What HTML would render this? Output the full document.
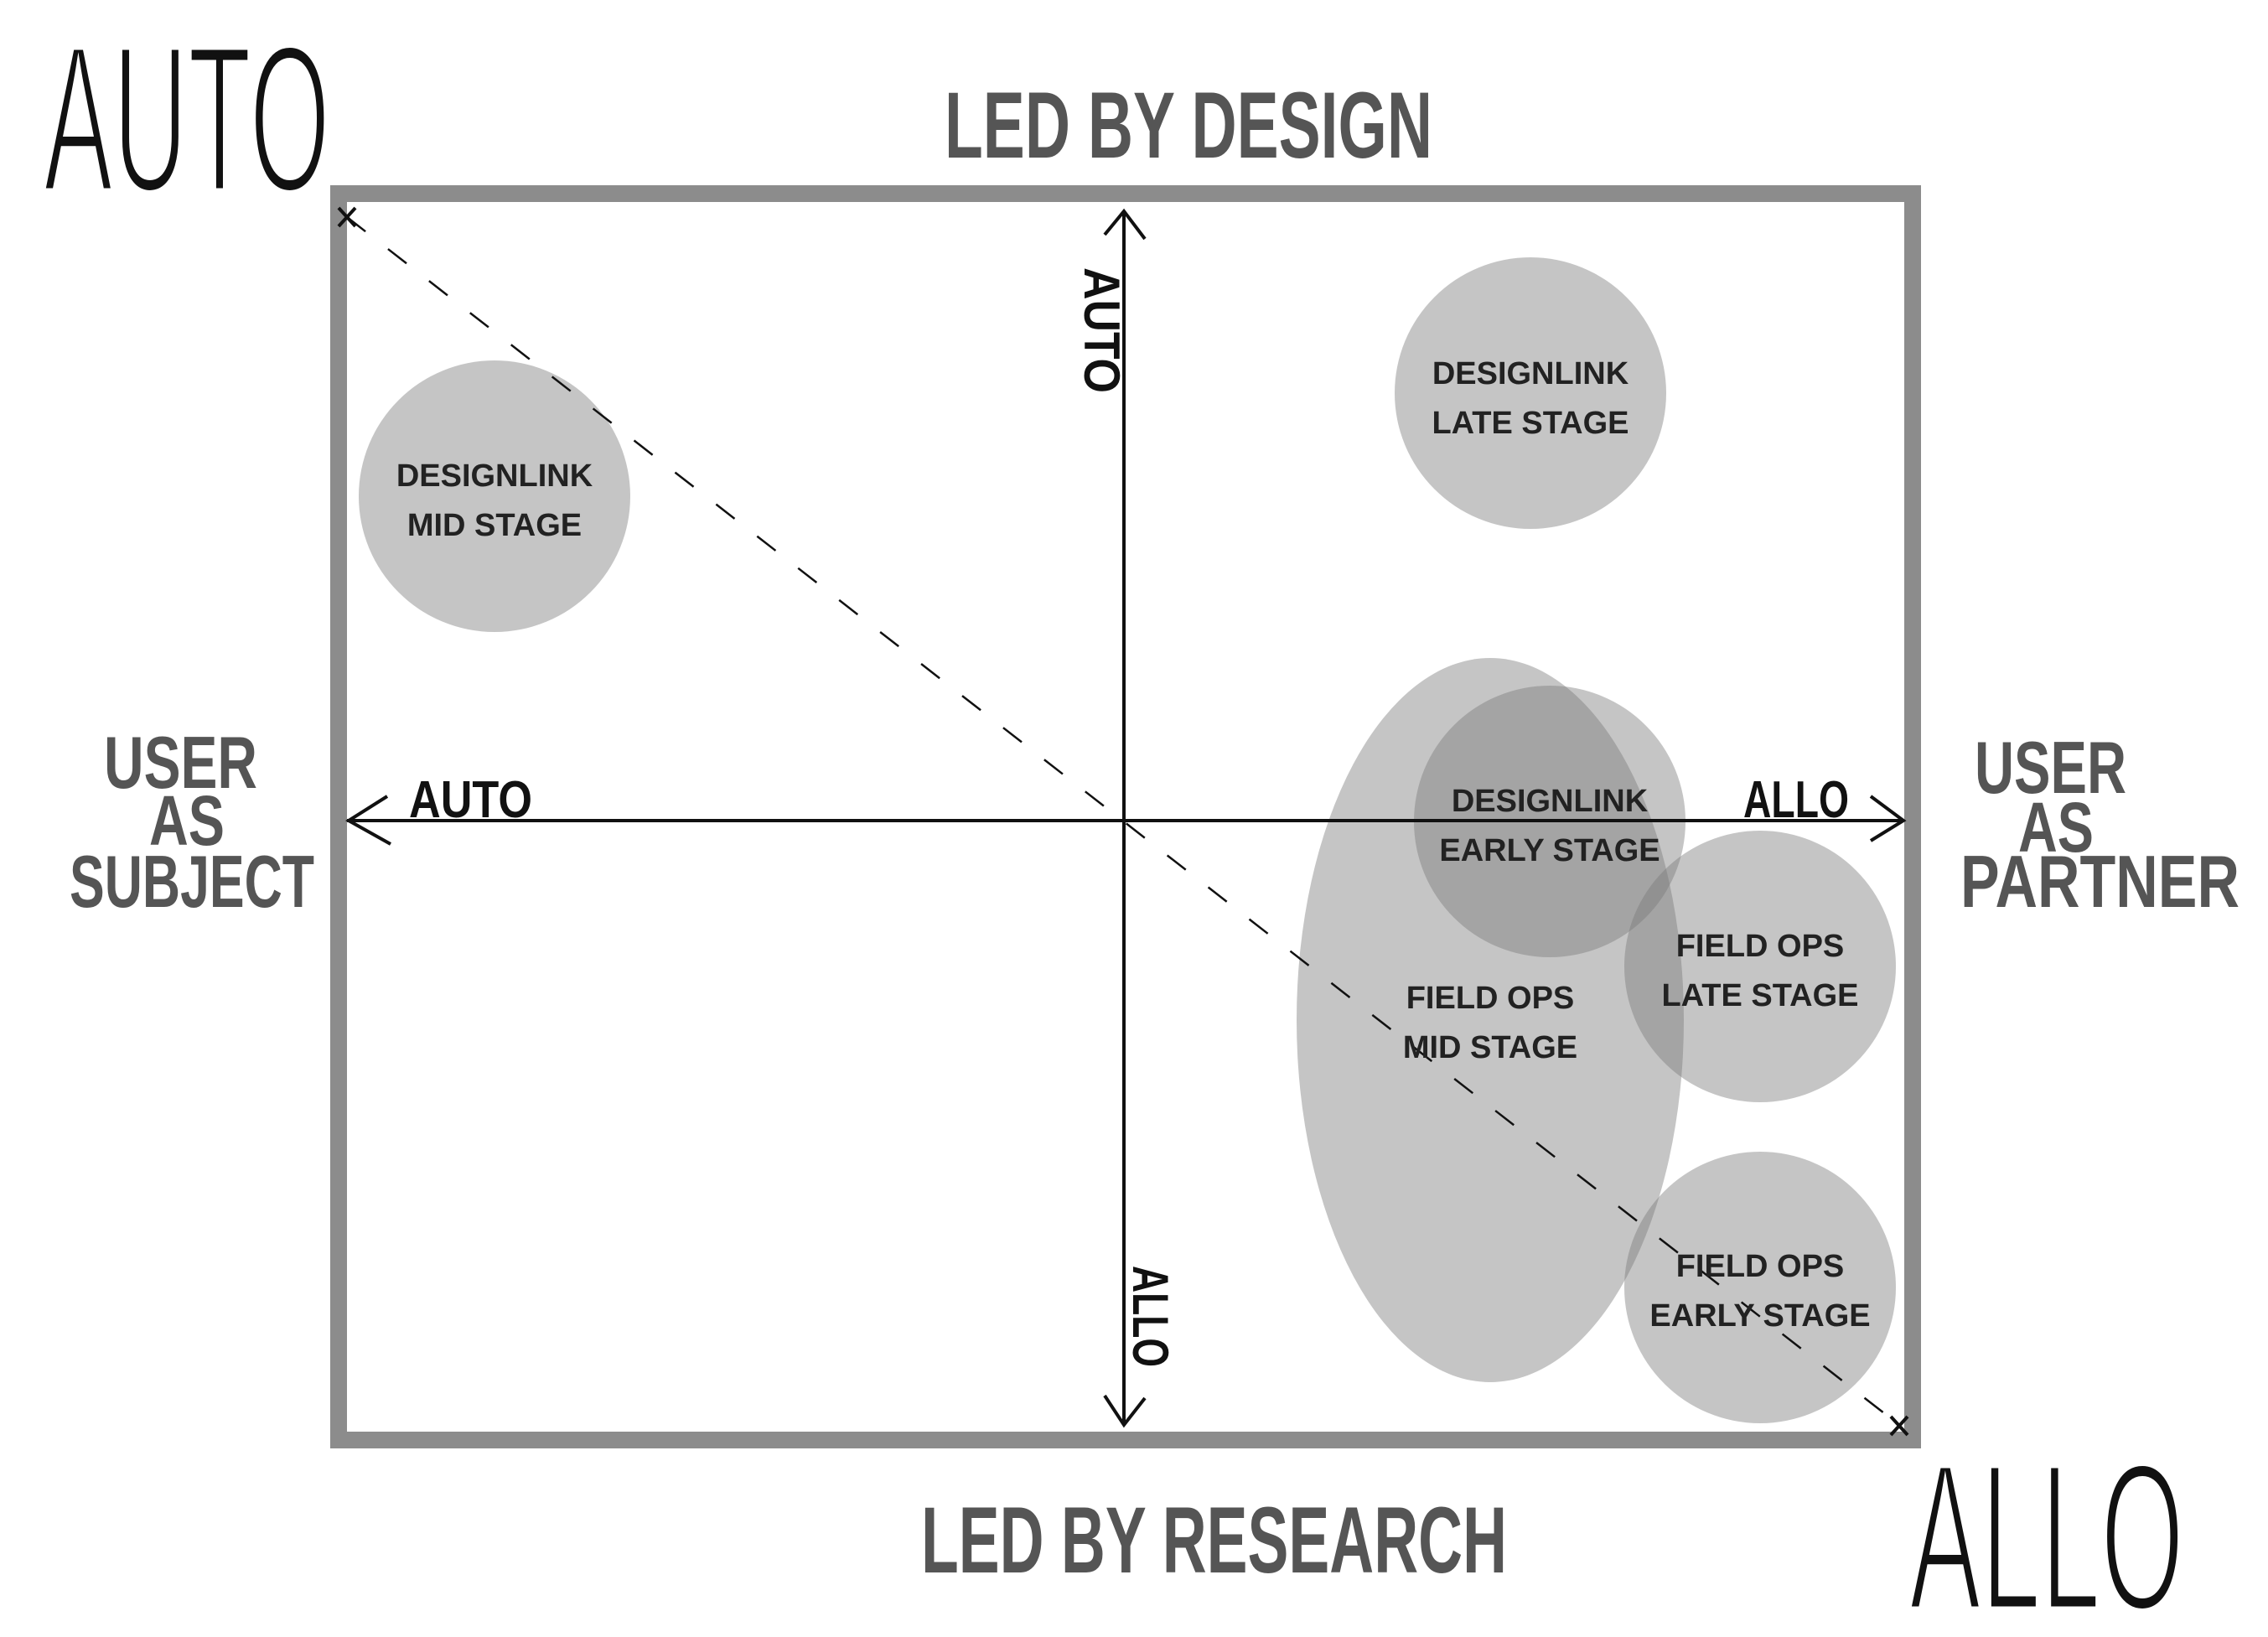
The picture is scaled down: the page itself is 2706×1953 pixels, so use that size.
<!DOCTYPE html>
<html><head><meta charset="utf-8"><style>
html,body{margin:0;padding:0;background:#fff;}
svg{display:block;}
.hand{font-family:"Liberation Sans",sans-serif;}
.lbl{font-family:"Liberation Sans",sans-serif;font-weight:bold;font-size:38px;fill:#222;text-anchor:middle;}
</style></head><body>
<svg width="2706" height="1953" viewBox="0 0 2706 1953" xmlns="http://www.w3.org/2000/svg">
<rect x="404" y="231" width="1878" height="1487" fill="none" stroke="#8c8c8c" stroke-width="20"/>
<g fill="rgba(120,120,120,0.43)">
<circle cx="590" cy="592" r="162"/>
<circle cx="1826" cy="469" r="162"/>
<ellipse cx="1778" cy="1217" rx="231" ry="432"/>
<circle cx="1849" cy="980" r="162"/>
<circle cx="2100" cy="1153" r="162"/>
<circle cx="2100" cy="1536" r="162"/>
</g>
<line x1="414" y1="259" x2="2266" y2="1700" stroke="#111" stroke-width="2.5" stroke-dasharray="28,34"/>
<path d="M404 248 L424 270 M424 248 L404 270" stroke="#111" stroke-width="4"/>
<path d="M2256 1690 L2276 1712 M2276 1690 L2256 1712" stroke="#111" stroke-width="4"/>
<g stroke="#111" stroke-width="4" fill="none">
<line x1="1341" y1="252" x2="1341" y2="1700"/>
<line x1="414" y1="979" x2="2271" y2="979"/>
<path d="M1318 280 L1341 252 L1366 285"/>
<path d="M1318 1665 L1341 1700 L1366 1668"/>
<path d="M462 950 L416 979 L466 1007"/>
<path d="M2232 950 L2271 979 L2232 1003"/>
</g>
<g class="lbl">
<text x="590" y="580">DESIGNLINK</text><text x="590" y="639">MID STAGE</text>
<text x="1826" y="458">DESIGNLINK</text><text x="1826" y="517">LATE STAGE</text>
<text x="1849" y="968">DESIGNLINK</text><text x="1849" y="1027">EARLY STAGE</text>
<text x="1778" y="1203">FIELD OPS</text><text x="1778" y="1262">MID STAGE</text>
<text x="2100" y="1141">FIELD OPS</text><text x="2100" y="1200">LATE STAGE</text>
<text x="2100" y="1523">FIELD OPS</text><text x="2100" y="1582">EARLY STAGE</text>
</g>
<g class="hand" fill="#111">
<text x="52" y="228" font-size="250" textLength="342" lengthAdjust="spacingAndGlyphs" stroke="#fff" stroke-width="7">AUTO</text>
<text x="2278" y="1920" font-size="250" textLength="328" lengthAdjust="spacingAndGlyphs" stroke="#fff" stroke-width="7">ALLO</text>
<text x="488" y="975" font-size="62" font-weight="bold" textLength="147" lengthAdjust="spacingAndGlyphs">AUTO</text>
<text x="2080" y="975" font-size="62" font-weight="bold" textLength="126" lengthAdjust="spacingAndGlyphs">ALLO</text>
<text transform="translate(1294,319) rotate(90)" font-size="60" font-weight="bold" textLength="150" lengthAdjust="spacingAndGlyphs">AUTO</text>
<text transform="translate(1352,1510) rotate(90)" font-size="60" font-weight="bold" textLength="121" lengthAdjust="spacingAndGlyphs">ALLO</text>
</g>
<g class="hand" fill="#555" font-weight="bold">
<text x="1127" y="188" font-size="112" textLength="582" lengthAdjust="spacingAndGlyphs">LED BY DESIGN</text>
<text x="1099" y="1876" font-size="112" textLength="699" lengthAdjust="spacingAndGlyphs">LED BY  RESEARCH</text>
<text x="124" y="940" font-size="88" textLength="183" lengthAdjust="spacingAndGlyphs">USER</text>
<text x="178" y="1008" font-size="84" textLength="90" lengthAdjust="spacingAndGlyphs">AS</text>
<text x="83" y="1082" font-size="88" textLength="292" lengthAdjust="spacingAndGlyphs">SUBJECT</text>
<text x="2356" y="946" font-size="88" textLength="181" lengthAdjust="spacingAndGlyphs">USER</text>
<text x="2408" y="1016" font-size="84" textLength="90" lengthAdjust="spacingAndGlyphs">AS</text>
<text x="2339" y="1082" font-size="88" textLength="333" lengthAdjust="spacingAndGlyphs">PARTNER</text>
</g>
</svg>
</body></html>
